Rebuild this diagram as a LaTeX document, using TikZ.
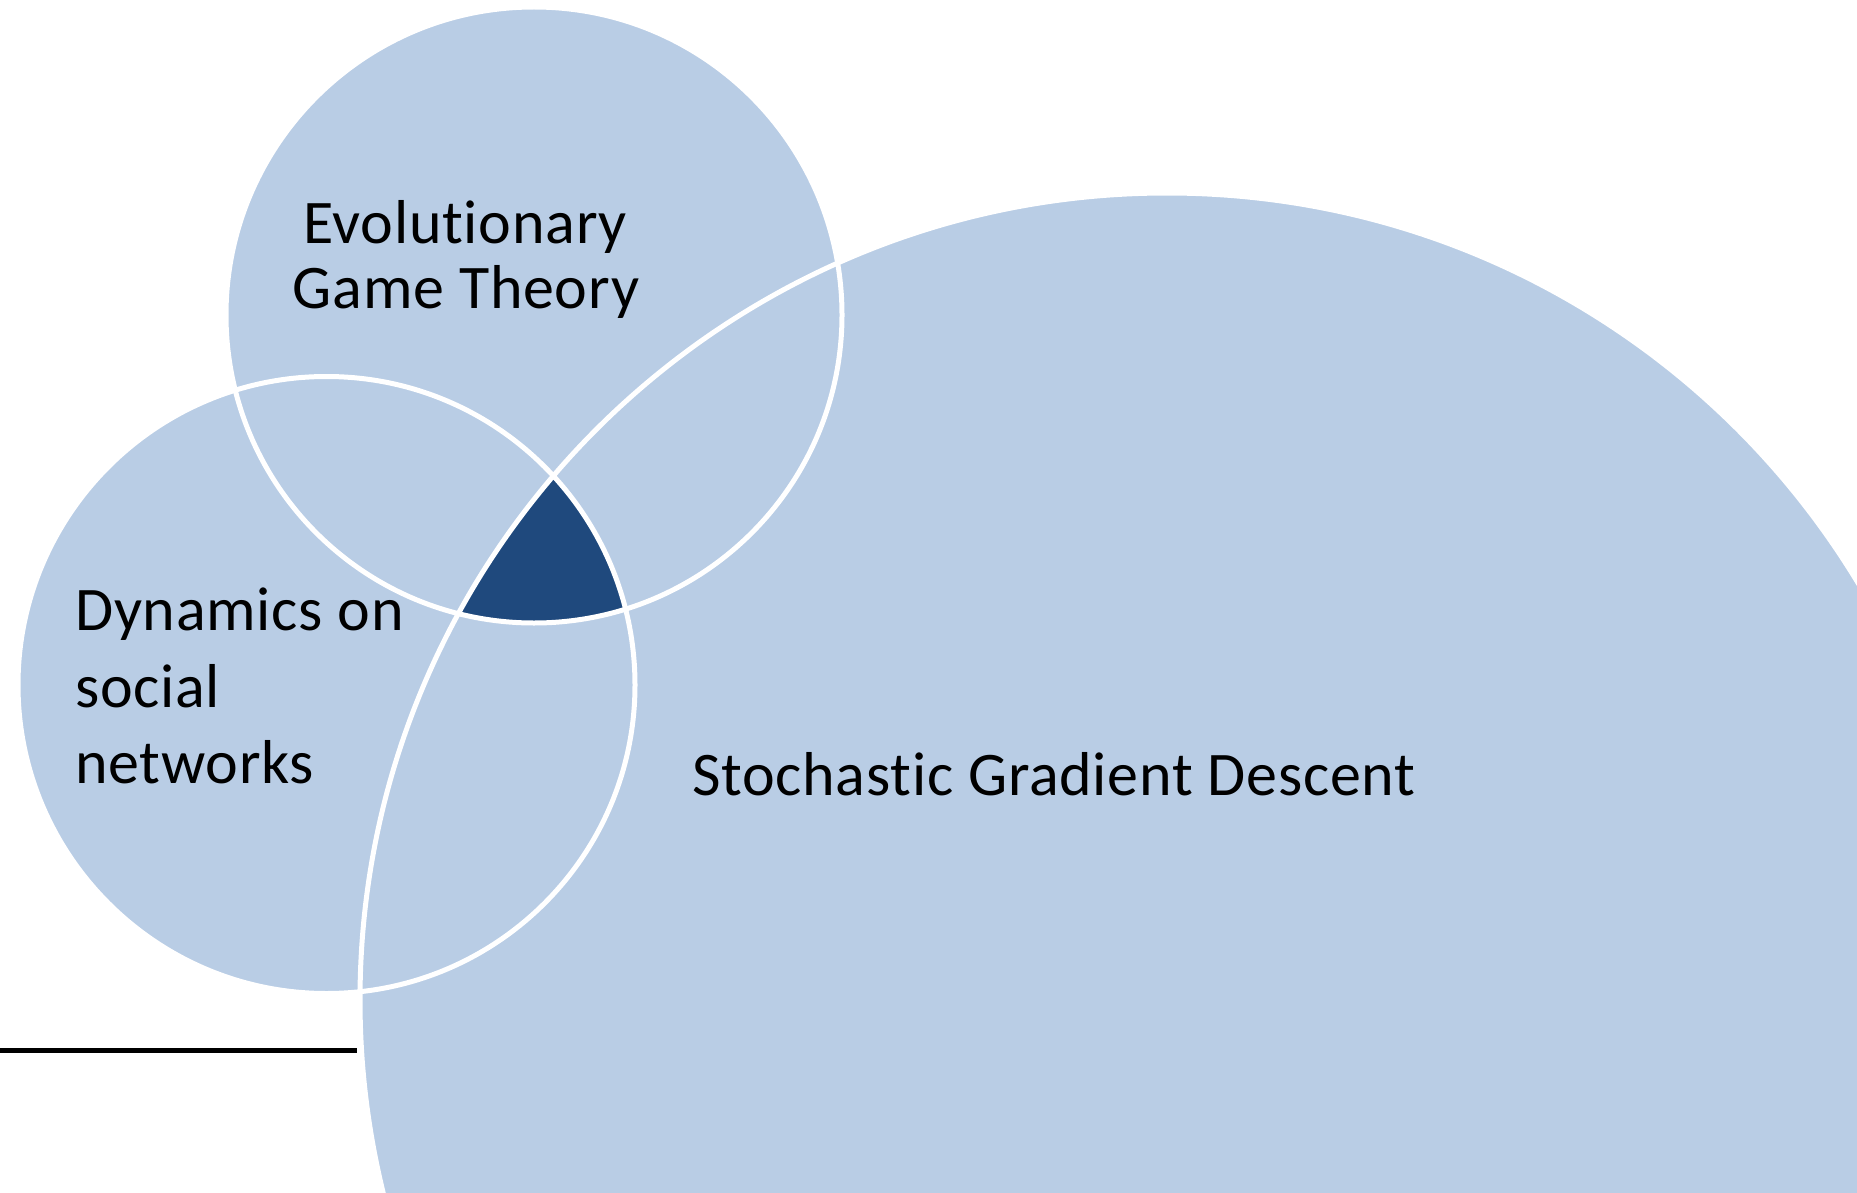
\documentclass[tikz,border=0pt]{standalone}
\usepackage{fontspec}
\setmainfont[Ligatures=NoCommon,LetterSpace=1.2]{Carlito}
\definecolor{setfill}{HTML}{B9CDE5}
\definecolor{corefill}{HTML}{1F497D}
\begin{document}
\begin{tikzpicture}[x=1pt,y=-1pt,
  setdisc/.style={fill=setfill},
  setrim/.style={draw=white,line width=5pt},
  label/.style={inner sep=0pt,font=\fontsize{62}{74}\selectfont,text=black}]
\useasboundingbox (0,0) rectangle (1857,1193);
\clip (0,0) rectangle (1857,1193);
% circle centres and radii
\coordinate (cE) at (534,315);
\coordinate (cD) at (326.5,685);
\coordinate (cS) at (1167,1000);
\def\rE{308}
\def\rD{308.5}
\def\rS{807}
% filled sets
\fill[setdisc] (cS) circle[radius=\rS];
\fill[setdisc] (cE) circle[radius=\rE];
\fill[setdisc] (cD) circle[radius=\rD];
% triple intersection
\begin{scope}
  \clip (cE) circle[radius=\rE];
  \clip (cD) circle[radius=\rD];
  \fill[corefill] (cS) circle[radius=\rS];
\end{scope}
% white outlines
\draw[setrim] (cS) circle[radius=\rS];
\draw[setrim] (cE) circle[radius=\rE];
\draw[setrim] (cD) circle[radius=\rD];
% rule at lower left
\coordinate (ruleA) at (0,1050);
\coordinate (ruleB) at (357,1050);
\draw[black,line width=5pt] (ruleA) -- (ruleB);
% labels
\node[label,anchor=base] (egt1) at (465,243) {Evolutionary};
\node[label,anchor=base] (egt2) at (466,308) {Game Theory};
\node[label,anchor=base west] (dyn1) at (75,630) {Dynamics on};
\node[label,anchor=base west] (dyn2) at (75,707) {social};
\node[label,anchor=base west] (dyn3) at (75,783) {networks};
\node[label,anchor=base west] (sgd) at (692,795) {Stochastic Gradient Descent};
\end{tikzpicture}
\end{document}
